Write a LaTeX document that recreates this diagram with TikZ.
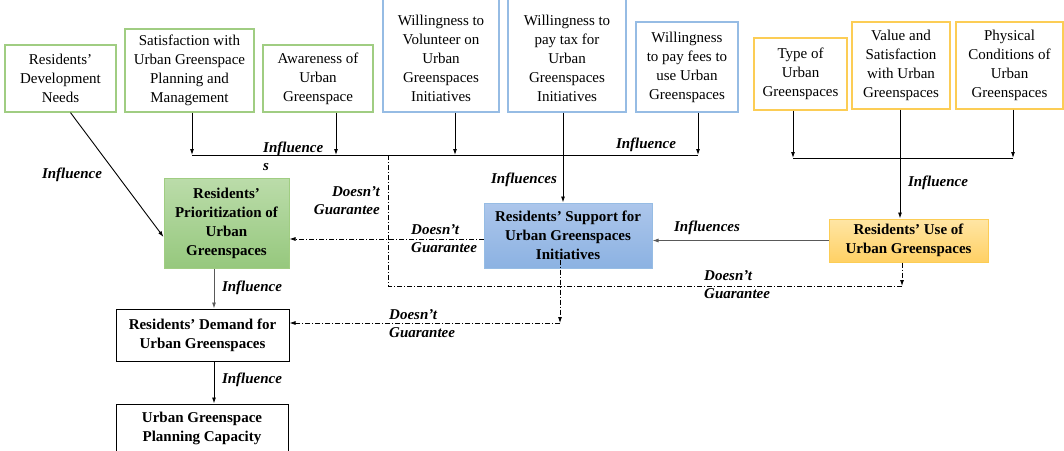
\documentclass[tikz,border=0pt]{standalone}
\usepackage{fontspec}
\setmainfont{Liberation Serif}
\usetikzlibrary{arrows.meta, calc, positioning}

\definecolor{grnline}{RGB}{160,205,130}
\definecolor{bluline}{RGB}{150,188,228}
\definecolor{orgline}{RGB}{252,205,85}
\definecolor{grntop}{RGB}{187,220,170}
\definecolor{grnbot}{RGB}{150,200,125}
\definecolor{blutop}{RGB}{172,198,235}
\definecolor{blubot}{RGB}{140,178,226}
\definecolor{orgtop}{RGB}{255,230,165}
\definecolor{orgbot}{RGB}{255,208,100}

\begin{document}
\begin{tikzpicture}[>={Latex[length=6pt,width=4pt]}, x=1pt, y=-1pt,
    box/.style={draw, align=center, inner sep=2pt, font=\fontsize{15}{19}\selectfont},
    gbox/.style={box, draw=grnline, line width=1.3pt},
    bbox/.style={box, draw=bluline, line width=1.3pt},
    obox/.style={box, draw=orgline, line width=1.3pt},
    mbox/.style={box, line width=1pt, font=\fontsize{15}{19}\selectfont\bfseries},
    lbl/.style={inner sep=0pt, font=\fontsize{15}{18}\selectfont\bfseries\itshape},
    conn/.style={line width=0.9pt},
    dgline/.style={line width=0.8pt, dash pattern=on 5pt off 2pt on 1pt off 2pt}]

    % 範囲
    \useasboundingbox (0,0) rectangle (1064,450);

    % 上段の要因 (緑)
    \node[gbox, minimum width=111, minimum height=67] (needs) at (60.5,78.5) {Residents'\\Development\\Needs};
    \node[gbox, minimum width=129, minimum height=83] (satis) at (189.5,70.5) {Satisfaction with\\Urban Greenspace\\Planning and\\Management};
    \node[gbox, minimum width=110, minimum height=67] (aware) at (318,78.5) {Awareness of\\Urban\\Greenspace};

    % 上段の要因 (青)
    \node[bbox, minimum width=116, minimum height=116] (volun) at (441,54) {\mbox{}\\Willingness to\\Volunteer on\\Urban\\Greenspaces\\Initiatives};
    \node[bbox, minimum width=118, minimum height=116] (tax) at (567,54) {\mbox{}\\Willingness to\\pay tax for\\Urban\\Greenspaces\\Initiatives};
    \node[bbox, minimum width=102, minimum height=90] (fees) at (687,67) {Willingness\\to pay fees to\\use Urban\\Greenspaces};

    % 上段の要因 (橙)
    \node[obox, minimum width=93, minimum height=72] (type) at (800.5,74) {Type of\\Urban\\Greenspaces};
    \node[obox, minimum width=98, minimum height=87] (value) at (901,65.5) {Value and\\Satisfaction\\with Urban\\Greenspaces};
    \node[obox, minimum width=107, minimum height=87] (phys) at (1009.5,65.5) {Physical\\Conditions of\\Urban\\Greenspaces};

    % 中段・下段
    \node[mbox, draw=grnline, top color=grntop, bottom color=grnbot, minimum width=125, minimum height=90] (prio) at (226.5,223) {Residents'\\Prioritization of\\Urban\\Greenspaces};
    \node[mbox, draw=bluline, top color=blutop, bottom color=blubot, minimum width=168, minimum height=65] (supp) at (568,235.5) {Residents' Support for\\Urban Greenspaces\\Initiatives};
    \node[mbox, draw=orgline, top color=orgtop, bottom color=orgbot, minimum width=159, minimum height=43] (use) at (908.5,240.5) {Residents' Use of\\Urban Greenspaces};
    \node[mbox, fill=white, minimum width=173, minimum height=52] (dem) at (202.5,335) {Residents' Demand for\\Urban Greenspaces};
    \node[mbox, fill=white, minimum width=172, minimum height=48] (cap) at (202,428) {Urban Greenspace\\Planning Capacity};

    % 合流点
    \coordinate (lA) at (192,155);
    \coordinate (lB) at (698,155);
    \coordinate (aw) at (336,155);
    \coordinate (vo) at (455,155);
    \coordinate (tx) at (563,155);
    \coordinate (rA) at (793,158);
    \coordinate (rB) at (1013,158);
    \coordinate (va) at (900,158);
    \coordinate (cx) at (214,0);
    \coordinate (dv) at (388,155);
    \coordinate (dc) at (388,286);
    \coordinate (dx) at (902,286);
    \coordinate (sx) at (560,323);

    % 左の線
    \draw[conn] (lA) -- (lB);
    \draw[conn, ->] (satis.south -| lA) -- (lA);
    \draw[conn, ->] (aware.south -| aw) -- (aw);
    \draw[conn, ->] (volun.south -| vo) -- (vo);
    \draw[conn, ->] (fees.south -| lB) -- (lB);
    \draw[conn, ->] (tax.south -| tx) -- (supp.north -| tx);

    % 右の線
    \draw[conn] (rA) -- (rB);
    \draw[conn, ->] (type.south -| rA) -- (rA);
    \draw[conn, ->] (phys.south -| rB) -- (rB);
    \draw[conn, ->] (value.south -| va) -- (use.north -| va);

    % 影響
    \draw[conn, ->, gray!70!black] (use.west) -- (use.west -| supp.east);
    \draw[conn, ->] ([xshift=10pt]needs.south) -- ([yshift=-14pt]prio.west);
    \draw[conn, ->, gray!70!black] (prio.south -| cx) -- (dem.north -| cx);
    \draw[conn, ->] (dem.south -| cx) -- (cap.north -| cx);

    % 保証しない (一点鎖線)
    \draw[dgline, ->] ([yshift=-3.5pt]supp.west) -- ([yshift=-3.5pt]supp.west -| prio.east);
    \draw[dgline, ->] (use.south -| dx) -- (dx);
    \draw[dgline] (dx) -- (dc) -- (dv);
    \draw[dgline, ->] ($(supp.south -| sx)+(0,-9)$) -- (sx);
    \draw[dgline, ->] (sx) -- (dem.east |- sx);

    % ラベル
    \node[lbl, align=left, anchor=west] (i1) at (263,156) {Influence\\s};
    \node[lbl] (i2) at (646,145) {Influence};
    \node[lbl] (i3) at (524,180) {Influences};
    \node[lbl] (i4) at (938,183) {Influence};
    \node[lbl] (i5) at (707,228) {Influences};
    \node[lbl] (i6) at (72,175) {Influence};
    \node[lbl] (i7) at (252,288) {Influence};
    \node[lbl] (i8) at (252,380) {Influence};
    \node[lbl, align=right, anchor=east] (g1) at (380,201) {Doesn't\\Guarantee};
    \node[lbl, align=left, anchor=west] (g2) at (411,239) {Doesn't\\Guarantee};
    \node[lbl, align=left, anchor=west] (g3) at (704,285) {Doesn't\\Guarantee};
    \node[lbl, align=left, anchor=west] (g4) at (389,324) {Doesn't\\Guarantee};
\end{tikzpicture}
\end{document}
